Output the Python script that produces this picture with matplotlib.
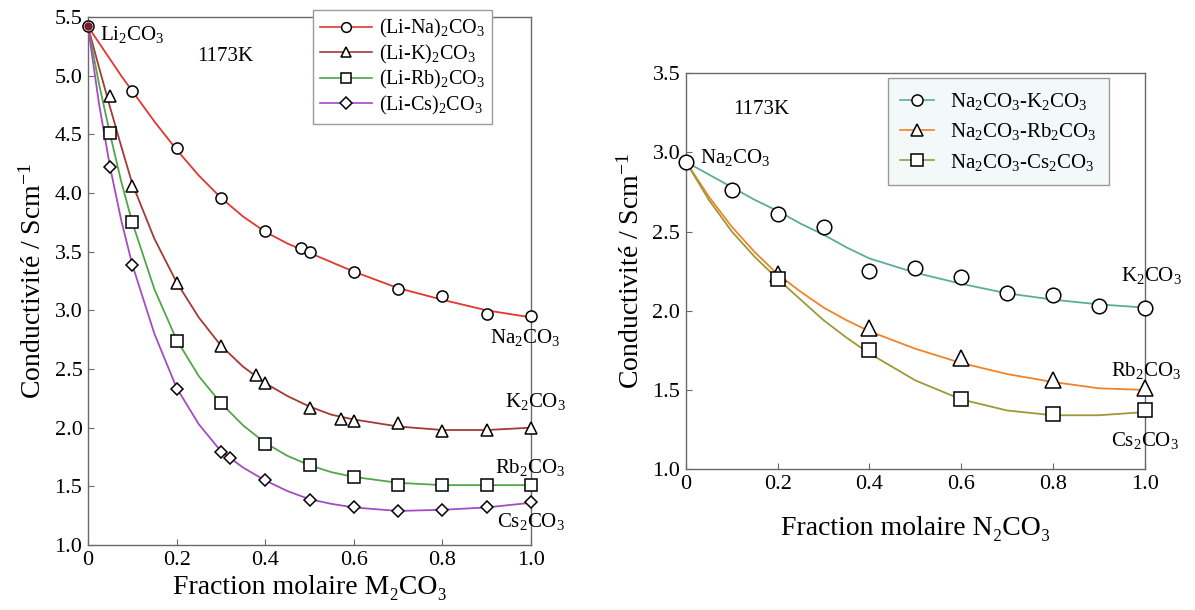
import matplotlib
matplotlib.use("Agg")
import matplotlib.pyplot as plt

plt.rcParams["font.family"] = ["Liberation Serif", "DejaVu Serif"]
plt.rcParams["mathtext.fontset"] = "custom"
plt.rcParams["mathtext.rm"] = "Liberation Serif"
plt.rcParams["mathtext.it"] = "Liberation Serif:italic"

# ---- left panel: Li2CO3 - M2CO3 at 1173 K ----
na_x = [0, 0.1, 0.2, 0.3, 0.4, 0.48, 0.5, 0.6, 0.7, 0.8, 0.9, 1.0]
na_y = [5.42, 4.87, 4.38, 3.96, 3.68, 3.53, 3.50, 3.33, 3.18, 3.12, 2.97, 2.95]
k_x = [0.05, 0.1, 0.2, 0.3, 0.38, 0.4, 0.5, 0.57, 0.6, 0.7, 0.8, 0.9, 1.0]
k_y = [4.83, 4.06, 3.23, 2.70, 2.45, 2.38, 2.17, 2.07, 2.06, 2.04, 1.97, 1.98, 2.00]
rb_x = [0.05, 0.1, 0.2, 0.3, 0.4, 0.5, 0.6, 0.7, 0.8, 0.9, 1.0]
rb_y = [4.51, 3.75, 2.74, 2.21, 1.86, 1.68, 1.58, 1.51, 1.51, 1.51, 1.51]
cs_x = [0.05, 0.1, 0.2, 0.3, 0.32, 0.4, 0.5, 0.6, 0.7, 0.8, 0.9, 1.0]
cs_y = [4.22, 3.39, 2.33, 1.79, 1.74, 1.55, 1.38, 1.32, 1.29, 1.30, 1.32, 1.37]

# fitted curves
fit_x = [0, 0.025, 0.05, 0.075, 0.1, 0.15, 0.2, 0.25, 0.3, 0.35, 0.4, 0.45,
         0.5, 0.55, 0.6, 0.7, 0.8, 0.9, 1.0]
na_fit = [5.42, 5.28, 5.14, 5.00, 4.87, 4.61, 4.37, 4.15, 3.96, 3.80, 3.67, 3.57,
          3.49, 3.41, 3.33, 3.19, 3.09, 3.00, 2.94]
k_fit = [5.42, 5.07, 4.73, 4.40, 4.08, 3.61, 3.24, 2.94, 2.70, 2.52, 2.38, 2.27,
         2.18, 2.11, 2.07, 2.01, 1.98, 1.98, 2.00]
rb_fit = [5.42, 4.93, 4.50, 4.10, 3.75, 3.18, 2.75, 2.44, 2.21, 2.02, 1.87, 1.76,
          1.68, 1.62, 1.58, 1.53, 1.51, 1.51, 1.51]
cs_fit = [5.42, 4.76, 4.22, 3.77, 3.39, 2.80, 2.34, 2.03, 1.80, 1.66, 1.55, 1.46,
          1.39, 1.35, 1.32, 1.29, 1.30, 1.32, 1.36]

# ---- right panel: Na2CO3 - N2CO3 at 1173 K ----
nk_x = [0, 0.1, 0.2, 0.3, 0.4, 0.5, 0.6, 0.7, 0.8, 0.9, 1.0]
nk_y = [2.94, 2.76, 2.61, 2.53, 2.25, 2.27, 2.21, 2.11, 2.10, 2.03, 2.02]
nrb_x = [0.2, 0.4, 0.6, 0.8, 1.0]
nrb_y = [2.23, 1.89, 1.70, 1.56, 1.51]
ncs_x = [0.2, 0.4, 0.6, 0.8, 1.0]
ncs_y = [2.20, 1.75, 1.44, 1.35, 1.37]

rfit_x = [0, 0.05, 0.1, 0.15, 0.2, 0.25, 0.3, 0.35, 0.4, 0.5, 0.6, 0.7, 0.8, 0.9, 1.0]
nk_fit = [2.94, 2.86, 2.78, 2.70, 2.63, 2.55, 2.48, 2.40, 2.33, 2.24, 2.17, 2.11, 2.07, 2.04, 2.02]
nrb_fit = [2.94, 2.72, 2.53, 2.37, 2.23, 2.12, 2.02, 1.94, 1.87, 1.76, 1.67, 1.60, 1.55, 1.51, 1.50]
ncs_fit = [2.94, 2.70, 2.50, 2.34, 2.20, 2.07, 1.94, 1.83, 1.73, 1.56, 1.44, 1.37, 1.34, 1.34, 1.36]

x_ticks = [0, 0.2, 0.4, 0.6, 0.8, 1.0]
x_ticklabels = ["0", "0.2", "0.4", "0.6", "0.8", "1.0"]
left_yticks = [1.0, 1.5, 2.0, 2.5, 3.0, 3.5, 4.0, 4.5, 5.0, 5.5]
right_yticks = [1.0, 1.5, 2.0, 2.5, 3.0, 3.5]

SPINE = "#6a6a6a"
C_NA, C_K, C_RB, C_CS = "#e2372e", "#a33a35", "#52a64a", "#a24dc2"
C_TEAL, C_ORANGE, C_OLIVE = "#5aae97", "#f0832a", "#9c9a38"

fig = plt.figure(figsize=(11.95, 6.10), dpi=100)
axl = fig.add_axes([0.0736, 0.1066, 0.3708, 0.8654])
axr = fig.add_axes([0.574, 0.231, 0.384, 0.649])


def style(ax, yticks, ylim):
    ax.set_xlim(0, 1.0)
    ax.set_ylim(*ylim)
    ax.set_xticks(x_ticks)
    ax.set_xticklabels(x_ticklabels)
    ax.set_yticks(yticks)
    ax.set_yticklabels([f"{v:.1f}" for v in yticks])
    ax.tick_params(direction="in", length=4, width=0.8, color=SPINE, labelsize=16,
                   pad=4)
    for s in ax.spines.values():
        s.set_color(SPINE)
        s.set_linewidth(1.0)
    ax.set_xlabel("Fraction molaire M₂CO₃", fontsize=20, labelpad=4)
    ax.set_ylabel("Conductivité / Scm$^{-1}$", fontsize=20, labelpad=6)


mk = dict(mfc="white", mec="black", mew=1.1, ls="none", clip_on=False, zorder=5)

# left panel
for fx, fy, col in [(fit_x, na_fit, C_NA), (fit_x, k_fit, C_K),
                    (fit_x, rb_fit, C_RB), (fit_x, cs_fit, C_CS)]:
    axl.plot(fx, fy, color=col, lw=1.3, zorder=3, clip_on=False)
axl.plot(na_x, na_y, marker="o", ms=8, **mk)
axl.plot(k_x, k_y, marker="^", ms=8.5, **mk)
axl.plot(rb_x, rb_y, marker="s", ms=8, **mk)
axl.plot(cs_x, cs_y, marker="D", ms=6.5, **mk)
axl.plot(na_x[:1], na_y[:1], marker="o", ms=5, color="#7a1a2a", ls="none",
         clip_on=False, zorder=6)

style(axl, left_yticks, (1.0, 5.5))
axl.set_xlabel("Fraction molaire M₂CO₃", fontsize=20, labelpad=4)

handles = []
for col, m, ms, lab in [(C_NA, "o", 7, "(Li-Na)$_2$CO$_3$"), (C_K, "^", 7, "(Li-K)$_2$CO$_3$"),
                        (C_RB, "s", 7, "(Li-Rb)$_2$CO$_3$"), (C_CS, "D", 6.5, "(Li-Cs)$_2$CO$_3$")]:
    h, = axl.plot([], [], color=col, lw=1.2, marker=m, ms=ms, mfc="white", mec="black",
                  mew=1.1, label=lab)
    handles.append(h)
leg = axl.legend(handles=handles, loc="upper left", bbox_to_anchor=(0.508, 1.013),
                 fontsize=14.5, frameon=True, fancybox=False, edgecolor="#9a9a9a",
                 framealpha=1, handlelength=2.6, handletextpad=0.3, labelspacing=0.12,
                 borderpad=0.35, borderaxespad=0)
leg.get_frame().set_linewidth(1.0)
leg.set_zorder(10)

axl.text(0.027, 5.35, "Li$_2$CO$_3$", fontsize=15, ha="left", va="center")
axl.text(0.246, 5.16, "1173K", fontsize=15, ha="left", va="center")
axl.text(0.986, 2.77, "Na$_2$CO$_3$", fontsize=15, ha="center", va="center")
axl.text(1.01, 2.22, "K$_2$CO$_3$", fontsize=15, ha="center", va="center")
axl.text(0.998, 1.66, "Rb$_2$CO$_3$", fontsize=15, ha="center", va="center")
axl.text(1.0, 1.20, "Cs$_2$CO$_3$", fontsize=15, ha="center", va="center")

# right panel
axr.plot(rfit_x, nk_fit, color=C_TEAL, lw=1.3, zorder=3, clip_on=False)
axr.plot(rfit_x, nrb_fit, color=C_ORANGE, lw=1.3, zorder=3, clip_on=False)
axr.plot(rfit_x, ncs_fit, color=C_OLIVE, lw=1.3, zorder=3, clip_on=False)
axr.plot(nk_x, nk_y, marker="o", ms=10.5, **mk)
axr.plot(nrb_x, nrb_y, marker="^", ms=11, **mk)
axr.plot(ncs_x, ncs_y, marker="s", ms=10.5, **mk)

style(axr, right_yticks, (1.0, 3.5))
axr.set_xlabel("Fraction molaire N₂CO₃", fontsize=20, labelpad=16)

rhandles = []
for col, m, ms, lab in [(C_TEAL, "o", 8, "Na$_2$CO$_3$-K$_2$CO$_3$"),
                        (C_ORANGE, "^", 8.5, "Na$_2$CO$_3$-Rb$_2$CO$_3$"),
                        (C_OLIVE, "s", 8, "Na$_2$CO$_3$-Cs$_2$CO$_3$")]:
    h, = axr.plot([], [], color=col, lw=1.2, marker=m, ms=ms, mfc="white", mec="black",
                  mew=1.1, label=lab)
    rhandles.append(h)
rleg = axr.legend(handles=rhandles, loc="upper left", bbox_to_anchor=(0.44, 0.987),
                  fontsize=15, frameon=True, fancybox=False, edgecolor="#9a9a9a",
                  facecolor="#f3f8f8", framealpha=1, handlelength=1.6, handletextpad=0.8,
                  labelspacing=0.45, borderpad=0.6, borderaxespad=0)
rleg.get_frame().set_linewidth(1.0)

axr.text(0.102, 3.27, "1173K", fontsize=15, ha="left", va="center")
axr.text(0.03, 2.97, "Na$_2$CO$_3$", fontsize=15, ha="left", va="center")
axr.text(1.015, 2.22, "K$_2$CO$_3$", fontsize=15, ha="center", va="center")
axr.text(1.002, 1.62, "Rb$_2$CO$_3$", fontsize=15, ha="center", va="center")
axr.text(1.0, 1.18, "Cs$_2$CO$_3$", fontsize=15, ha="center", va="center")

fig.savefig("out.png", dpi=100, facecolor="white")
